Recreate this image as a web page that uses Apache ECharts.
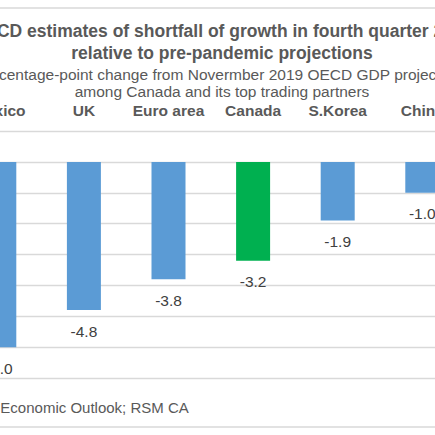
<!DOCTYPE html>
<html>
<head>
<meta charset="utf-8">
<script src="https://cdn.jsdelivr.net/npm/echarts@6/dist/echarts.min.js"></script>
<style>
  html, body { margin: 0; padding: 0; width: 435px; height: 435px; overflow: hidden; background: #fff; }
  #chart { position: absolute; left: -60px; top: 0; width: 564px; height: 435px; }
</style>
</head>
<body>
<div id="chart"></div>
<script>
// shortfall of growth vs pre-pandemic projections, percentage points
var categories = ['Mexico', 'UK', 'Euro area', 'Canada', 'S.Korea', 'China'];
var shortfall = [-6.0, -4.8, -3.8, -3.2, -1.9, -1.0];
var highlight = 'Canada';

var FONT = '"Liberation Sans", Arial, sans-serif';
var TEXT = '#595959';
var GRID = '#D9D9D9';

var barData = categories.map(function (c, i) {
  return {
    value: shortfall[i],
    itemStyle: { color: c === highlight ? '#00B050' : '#5B9BD5' }
  };
});

var chart = echarts.init(document.getElementById('chart'), null, { renderer: 'svg' });
chart.setOption({
  backgroundColor: '#fff',
  animation: false,
  title: [{
    text: 'OECD estimates of shortfall of growth in fourth quarter 2021\nrelative to pre-pandemic projections',
    left: 'center',
    top: 15,
    textStyle: { fontFamily: FONT, fontSize: 17.5, fontWeight: 'bold', color: TEXT, lineHeight: 22 }
  }, {
    text: 'Percentage-point change from Novermber 2019 OECD GDP projections\namong Canada and its top trading partners',
    left: 'center',
    top: 61,
    textStyle: { fontFamily: FONT, fontSize: 15.5, fontWeight: 'normal', color: TEXT, lineHeight: 17 }
  }],
  graphic: [{
    type: 'line',
    shape: { x1: 0, y1: 8, x2: 564, y2: 8 },
    style: { stroke: GRID, lineWidth: 1.5 },
    silent: true
  }, {
    type: 'line',
    shape: { x1: 0, y1: 427, x2: 564, y2: 427 },
    style: { stroke: GRID, lineWidth: 1.5 },
    silent: true
  }, {
    type: 'text',
    x: -43,
    y: 407,
    style: {
      text: 'Source: OECD Economic Outlook; RSM CA',
      font: '15px ' + FONT,
      fill: TEXT,
      verticalAlign: 'middle'
    }
  }],
  grid: { left: 17, right: 39.4, top: 131, bottom: 57, containLabel: false, outerBoundsMode: 'none' },
  xAxis: {
    type: 'category',
    data: categories,
    position: 'top',
    axisLine: { show: false },
    axisTick: { show: false },
    axisLabel: { margin: 13, fontFamily: FONT, fontSize: 15.5, fontWeight: 'bold', color: TEXT, interval: 0 }
  },
  yAxis: {
    type: 'value',
    min: -7,
    max: 1,
    interval: 1,
    axisLine: { show: false },
    axisTick: { show: false },
    axisLabel: { show: false },
    splitLine: { lineStyle: { color: GRID, width: 1.3 } }
  },
  series: [{
    type: 'bar',
    data: barData,
    barWidth: 34,
    label: {
      show: true,
      position: 'bottom',
      distance: 13,
      fontFamily: FONT,
      fontSize: 15.5,
      color: '#404040',
      formatter: function (p) { return p.value.toFixed(1); }
    }
  }]
});
</script>
</body>
</html>
